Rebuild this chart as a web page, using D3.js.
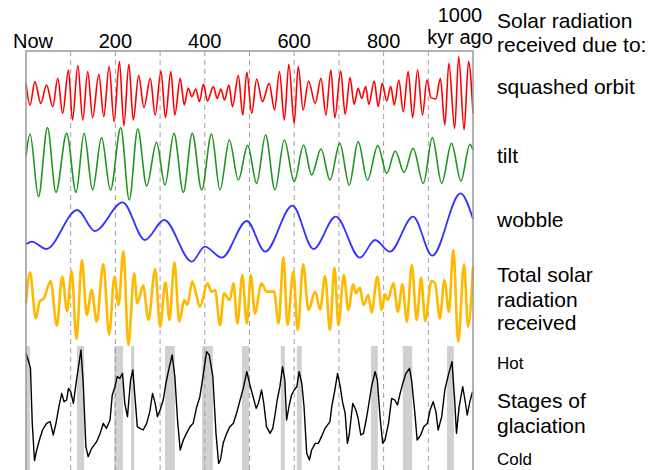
<!DOCTYPE html>
<html>
<head>
<meta charset="utf-8">
<script src="https://cdn.jsdelivr.net/npm/d3@7"></script>
<style>
  body { margin: 0; background: #fff; }
  text { font-family: "Liberation Sans", Arial, sans-serif; fill: #000; }
</style>
</head>
<body>
<div id="chart"></div>
<script>
// Milankovitch cycles - values as [kyr ago, relative value]
// extrema of each curve; the line generator smooths between them

var tickYears = [0, 200, 400, 600, 800];
var tickLabels = ['Now', '200', '400', '600', '800'];
var gridYears = [100, 200, 300, 400, 500, 600, 700, 800, 900];

var orbit = [[0,29],[9,-36],[20,34],[33,-31],[46,24],[60,-41],[71,44],[82,-61],[95,69],[104,-81],
  [116,82],[127,-81],[138,64],[149,-74],[163,56],[174,-71],[186,79],[197,-86],[209,94],[219,-98],
  [230,86],[240,-81],[252,52],[264,-44],[278,44],[289,-66],[302,66],[312,-74],[324,64],[333,-66],
  [345,44],[354,-36],[363,14],[371,-11],[380,12],[388,-26],[397,26],[406,-24],[419,19],[428,-16],
  [436,12],[444,-21],[454,24],[462,-41],[475,52],[485,-66],[494,62],[505,-61],[516,42],[529,-26],
  [544,29],[556,-51],[567,64],[578,-81],[588,86],[600,-91],[609,79],[620,-51],[632,36],[647,-31],
  [660,44],[671,-66],[682,69],[691,-74],[704,66],[714,-64],[725,46],[734,-34],[743,14],[751,-16],
  [760,19],[767,-34],[779,36],[788,-41],[797,29],[807,-24],[816,19],[824,-36],[834,39],[844,-56],
  [855,64],[865,-74],[876,69],[887,-66],[897,39],[906,-14],[917,-18],[927,44],[937,-96],[946,89],
  [959,-106],[968,109],[980,-111],[990,94],[1000,-61]];

var tilt = [[0,16],[9,84],[28,-104],[48,103],[67,-91],[91,86],[112,-91],[130,86],[149,-84],[169,73],
  [189,-84],[212,103],[231,-114],[250,99],[270,-72],[292,59],[311,-69],[331,86],[352,-91],[372,86],
  [393,-84],[415,84],[434,-84],[455,66],[475,-54],[496,50],[516,-64],[536,81],[557,-84],[578,66],
  [600,-59],[621,51],[639,-39],[660,39],[680,-54],[702,56],[723,-69],[743,61],[764,-54],[787,49],
  [807,-34],[826,33],[846,-31],[866,41],[889,-64],[909,73],[930,-64],[952,56],[973,-57],[993,53],
  [1000,36]];

var wobble = [[0,-49],[13,-41],[45,-63],[115,54],[154,-9],[216,77],[266,-36],[309,24],[371,-101],
  [400,-56],[438,-89],[494,21],[535,-71],[596,67],[643,-63],[693,34],[747,-89],[781,-36],[814,-71],
  [866,34],[909,-83],[972,104],[1000,27]];

var total = [[0,-19],[9,74],[22,-64],[31,-12],[40,-4],[55,48],[69,-86],[81,61],[92,-42],[102,78],
  [113,-126],[125,111],[136,-54],[147,21],[158,-74],[173,99],[186,-112],[198,61],[207,-24],[218,138],
  [229,-144],[242,71],[249,-19],[262,34],[274,-69],[289,84],[300,-89],[312,44],[321,-69],[332,104],
  [343,-74],[354,-9],[361,-24],[372,46],[382,1],[389,-29],[406,41],[415,16],[423,21],[434,-84],
  [443,11],[449,1],[456,-9],[464,41],[473,-79],[484,66],[494,-79],[503,66],[512,-49],[527,41],
  [538,16],[555,16],[565,-79],[576,119],[585,-84],[598,76],[608,-99],[620,98],[632,-39],[647,16],
  [658,-37],[669,63],[680,-99],[690,88],[699,-84],[711,66],[721,-39],[732,38],[738,11],[747,28],
  [755,-24],[766,6],[773,-46],[786,61],[796,-39],[803,8],[809,-9],[822,41],[832,-44],[842,38],
  [852,-74],[863,96],[874,-69],[884,58],[893,-72],[907,48],[915,41],[926,-64],[936,51],[946,-44],
  [956,141],[967,-134],[980,98],[989,-89],[1000,91]];

var glaciation = [[0,158],[7,128],[10,113],[14,-52],[19,-164],[24,-132],[30,-102],[37,-72],[46,-52],
  [54,-47],[61,-87],[67,-52],[75,8],[80,38],[85,13],[91,18],[95,53],[100,43],[106,8],[113,78],
  [123,168],[128,68],[134,-122],[139,-152],[147,-127],[158,-107],[166,-82],[173,-52],[180,-67],
  [188,-42],[193,33],[199,58],[204,88],[210,83],[216,98],[221,8],[227,-32],[234,78],[239,108],
  [244,23],[249,-62],[255,-67],[262,-72],[270,-52],[277,-17],[283,38],[289,8],[294,-32],[300,-12],
  [307,18],[313,68],[320,113],[327,153],[333,88],[339,-42],[345,-132],[352,-102],[359,-82],
  [367,-62],[374,-52],[382,-2],[389,28],[397,98],[404,163],[410,153],[418,88],[425,-82],[431,-172],
  [435,-162],[441,-112],[449,-82],[456,-62],[464,-52],[471,-22],[479,18],[486,53],[494,103],
  [501,63],[509,23],[515,-7],[520,8],[527,48],[532,8],[538,-62],[546,-82],[552,-67],[557,-27],
  [562,18],[568,58],[574,118],[579,78],[583,-42],[589,3],[594,33],[600,48],[606,58],[611,103],
  [617,68],[622,-2],[628,-142],[634,-162],[639,-132],[647,-112],[654,-112],[661,-92],[669,-67],
  [680,-47],[684,-2],[691,48],[697,98],[703,58],[708,13],[714,-22],[719,-112],[723,-87],[731,8],
  [738,-12],[743,-37],[749,-87],[755,-82],[761,-42],[766,-2],[773,58],[781,103],[786,78],[792,-32],
  [798,-112],[803,-102],[811,-52],[818,23],[825,18],[831,3],[837,38],[843,68],[850,98],[858,113],
  [863,73],[870,-22],[875,-102],[883,-87],[890,-62],[898,-52],[904,-12],[911,13],[917,-17],
  [922,-72],[930,-32],[937,48],[944,88],[953,133],[959,18],[963,-82],[969,-2],[977,58],[982,18],
  [987,-27],[993,13],[999,43]];

// warm periods (grey bands), kyr ago
var interglacials = [[0,9],[114,130],[197,217],[235,242],[311,333],[394,418],[483,499],
  [570,579],[606,617],[772,787],[843,864],[942,957]];

var W = 661, H = 470;
var plotLeft = 26, plotRight = 473, plotTop = 51;

var svg = d3.select('#chart').append('svg')
  .attr('width', W)
  .attr('height', H);

var x = d3.scaleLinear().domain([0, 1000]).range([plotLeft, plotRight]);

// one strip per curve: centre line of the strip in pixels
var panels = [
  {data: orbit, mid: 93, color: '#ff0000', width: 1.6, curve: d3.curveMonotoneX},
  {data: tilt, mid: 162, color: '#1e961e', width: 1.6, curve: d3.curveMonotoneX},
  {data: wobble, mid: 228, color: '#3333ff', width: 1.8, curve: d3.curveMonotoneX},
  {data: total, mid: 297, color: '#ffb900', width: 2.6, curve: d3.curveMonotoneX},
  {data: glaciation, mid: 406, color: '#000000', width: 1.4, curve: d3.curveLinear}
];

// grey bands
svg.selectAll('.band')
  .data(interglacials)
  .enter()
  .append('rect')
    .attr('class', 'band')
    .attr('x', function(d){ return x(d[0]); })
    .attr('width', function(d){ return x(d[1]) - x(d[0]); })
    .attr('y', 346)
    .attr('height', H - 346)
    .attr('fill', '#d0d0d0');

// dashed guides every 100 kyr
svg.selectAll('.guide')
  .data(gridYears)
  .enter()
  .append('line')
    .attr('class', 'guide')
    .attr('x1', function(d){ return x(d); })
    .attr('x2', function(d){ return x(d); })
    .attr('y1', plotTop)
    .attr('y2', H)
    .attr('stroke', '#a0a0a0')
    .attr('stroke-width', 1)
    .attr('stroke-dasharray', '5,4');

panels.forEach(function(p){
  var y = d3.scaleLinear().domain([-120, 120]).range([p.mid + 40, p.mid - 40]);
  var line = d3.line()
    .x(function(d){ return x(d[0]); })
    .y(function(d){ return y(d[1]); })
    .curve(p.curve);
  svg.append('path')
    .datum(p.data)
    .attr('d', line)
    .attr('fill', 'none')
    .attr('stroke', p.color)
    .attr('stroke-width', p.width)
    .attr('stroke-linejoin', 'round');
});

// frame (open at the bottom)
svg.append('path')
  .attr('d', 'M' + plotLeft + ',' + H + 'V' + plotTop + 'H' + plotRight + 'V' + H)
  .attr('fill', 'none')
  .attr('stroke', '#999')
  .attr('stroke-width', 1.5);

// top axis labels
var tickX = [33, 115, 205, 294, 384];
svg.selectAll('.tick')
  .data(tickLabels)
  .enter()
  .append('text')
    .attr('class', 'tick')
    .attr('x', function(d, i){ return i == 0 ? tickX[0] : x(tickYears[i]); })
    .attr('y', 48)
    .attr('text-anchor', 'middle')
    .style('font-size', '20px')
    .text(function(d){ return d; });

svg.append('text').attr('x', 460).attr('y', 22).attr('text-anchor', 'middle')
  .style('font-size', '20px').text('1000');
svg.append('text').attr('x', 460).attr('y', 44).attr('text-anchor', 'middle')
  .style('font-size', '20px').text('kyr ago');

// right-hand labels
var labels = [
  {t: 'Solar radiation', y: 28, s: 21},
  {t: 'received due to:', y: 52, s: 21},
  {t: 'squashed orbit', y: 94, s: 21},
  {t: 'tilt', y: 163, s: 21},
  {t: 'wobble', y: 227, s: 21},
  {t: 'Total solar', y: 282, s: 21},
  {t: 'radiation', y: 307, s: 21},
  {t: 'received', y: 330, s: 21},
  {t: 'Hot', y: 369, s: 17},
  {t: 'Stages of', y: 408, s: 21},
  {t: 'glaciation', y: 433, s: 21},
  {t: 'Cold', y: 465, s: 17}
];
svg.selectAll('.label')
  .data(labels)
  .enter()
  .append('text')
    .attr('class', 'label')
    .attr('x', 497)
    .attr('y', function(d){ return d.y; })
    .style('font-size', function(d){ return d.s + 'px'; })
    .text(function(d){ return d.t; });
</script>
</body>
</html>
